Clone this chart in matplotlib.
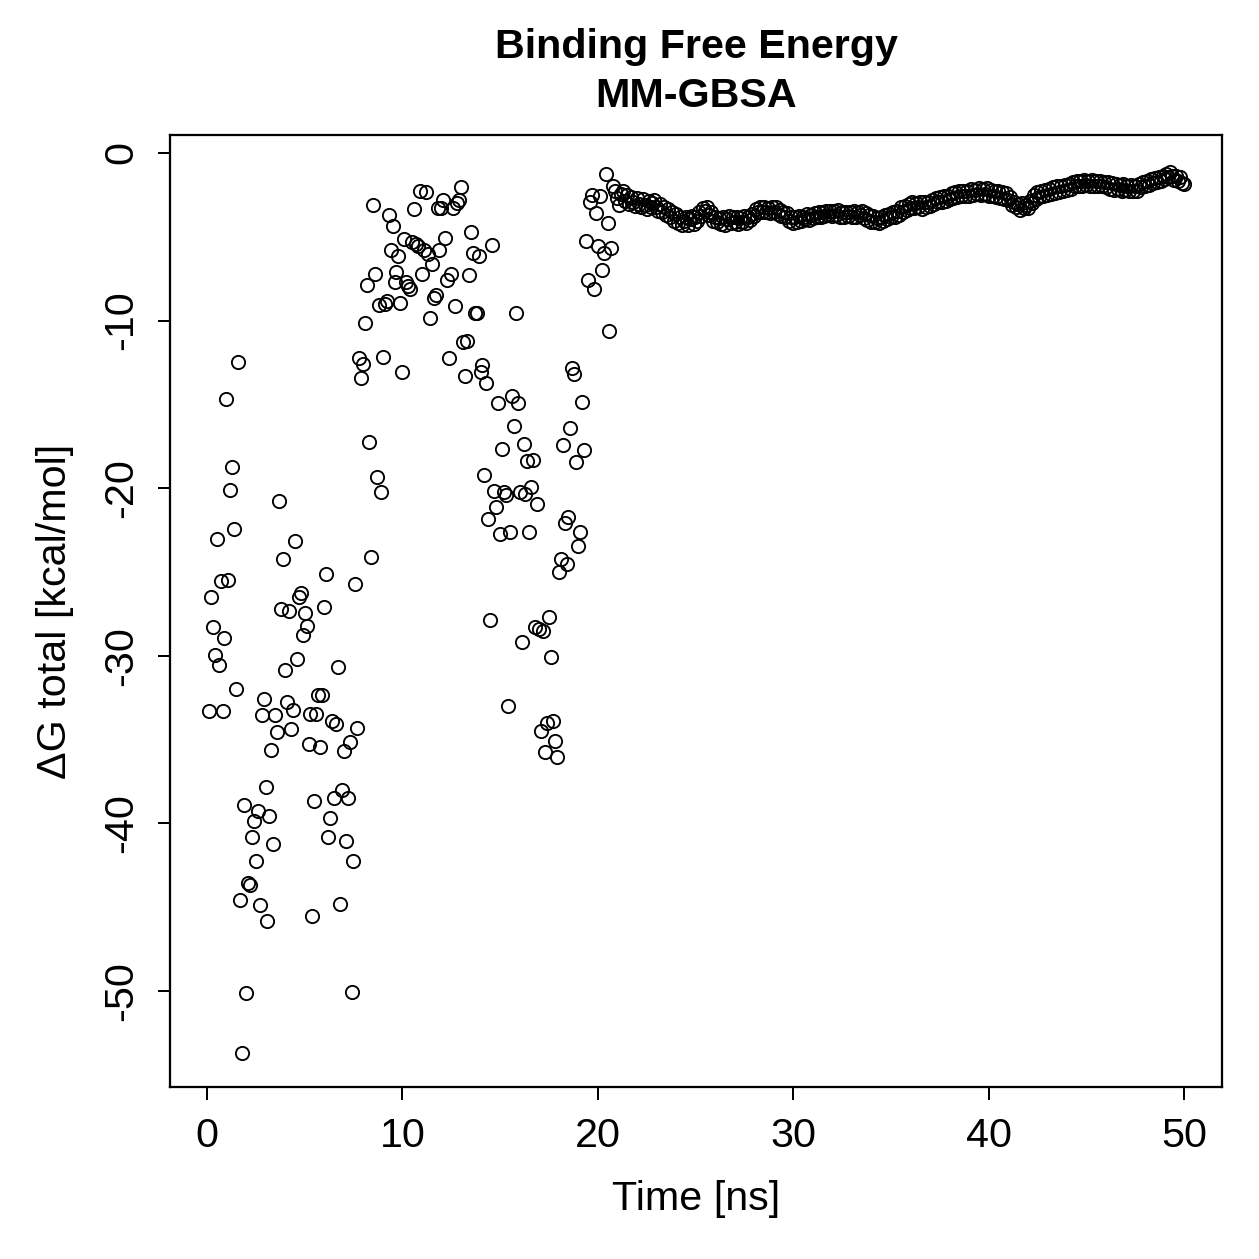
import numpy as np
import matplotlib
matplotlib.use('Agg')
import matplotlib.pyplot as plt

plt.rcParams['font.family'] = ['Liberation Sans', 'DejaVu Sans']

# frames are saved every 0.1 ns
frame_step_ns = 0.1

# scattered part, 0.1 .. 20.7 ns
dg_early = [
    -33.30, -26.51, -28.30, -29.97, -23.01, -30.55, -25.56, -33.30, -28.94, -14.70,
    -25.46, -20.13, -18.75, -22.42, -31.98, -12.45, -44.56, -53.72, -38.92, -50.12,
    -43.58, -43.68, -40.81, -39.84, -42.26, -39.25, -44.89, -33.55, -32.56, -37.85,
    -45.81, -39.58, -35.62, -41.23, -33.55, -34.53, -20.78, -27.21, -24.21, -30.83,
    -32.76, -27.35, -34.39, -33.24, -23.17, -30.19, -26.48, -26.24, -28.74, -27.47,
    -28.24, -35.27, -33.49, -45.51, -38.67, -33.46, -32.34, -35.46, -32.37, -27.12,
    -25.14, -40.83, -39.70, -33.87, -38.51, -34.07, -30.67, -44.83, -38.01, -35.68,
    -41.07, -38.51, -35.15, -50.06, -42.23, -25.70, -34.29, -12.21, -13.41, -12.57,
    -10.14, -7.88, -17.24, -24.11, -3.10, -7.20, -19.32, -9.07, -20.25, -12.17,
    -8.99, -8.83, -3.70, -5.81, -4.37, -7.72, -7.12, -6.16, -8.95, -13.09,
    -5.13, -7.68, -7.92, -8.12, -5.33, -3.34, -5.45, -5.53, -2.27, -7.20,
    -5.81, -2.31, -6.01, -9.83, -6.64, -8.63, -8.47, -3.26, -5.77, -3.30,
    -2.79, -5.05, -7.56, -12.25, -7.24, -3.26, -9.11, -2.98, -2.79, -2.03,
    -11.26, -13.32, -11.20, -7.28, -4.70, -5.98, -9.53, -9.53, -6.13, -13.09,
    -12.65, -19.21, -13.74, -21.86, -27.87, -5.49, -20.17, -21.14, -14.90, -22.73,
    -17.64, -20.25, -20.41, -32.98, -22.63, -14.50, -16.27, -9.53, -14.94, -20.23,
    -29.18, -17.38, -20.35, -18.38, -22.63, -19.95, -18.30, -28.27, -20.94, -28.39,
    -34.47, -28.50, -35.72, -34.03, -27.71, -30.09, -33.87, -35.07, -36.02, -25.02,
    -24.23, -17.44, -22.10, -24.51, -21.70, -16.43, -12.85, -13.21, -18.44, -23.43,
    -22.61, -14.86, -17.72, -5.25, -7.58, -2.91, -2.51, -8.12, -3.56, -5.53,
    -2.57, -7.00, -5.98, -1.27, -4.16, -10.60, -5.69,
]

# converged part, 20.8 .. 50.0 ns
dg_late = [
    -1.97, -2.25,
    -2.70, -3.10, -2.45, -2.30, -2.85, -2.50, -3.05, -2.65, -2.95, -3.15,
    -2.70, -3.05, -3.25, -2.75, -3.10, -3.35, -2.85, -3.20, -3.00, -2.80,
    -3.20, -3.45, -3.05, -3.55, -3.25, -3.70, -3.35, -3.85, -3.50, -4.05,
    -3.65, -4.20, -3.80, -4.30, -4.05, -3.85, -4.30, -3.95, -3.75, -4.25,
    -3.80, -4.05, -3.55, -3.75, -3.30, -3.45, -3.20, -3.70, -3.55, -4.05,
    -3.85, -4.15, -3.90, -4.25, -3.80, -4.30, -3.95, -3.75, -4.20, -3.85,
    -4.10, -3.80, -4.25, -3.90, -4.15, -3.75, -4.20, -3.85, -4.00, -3.65,
    -3.75, -3.35, -3.55, -3.20, -3.50, -3.25, -3.55, -3.30, -3.60, -3.20,
    -3.55, -3.25, -3.65, -3.40, -3.75, -3.50, -3.85, -3.60, -4.05, -3.80,
    -4.20, -3.85, -4.15, -3.75, -4.05, -3.80, -3.95, -3.65, -4.00, -3.70,
    -3.90, -3.60, -3.85, -3.55, -3.80, -3.50, -3.75, -3.45, -3.70, -3.45,
    -3.75, -3.45, -3.70, -3.40, -3.80, -3.50, -3.85, -3.55, -3.75, -3.50,
    -3.80, -3.45, -3.85, -3.50, -3.70, -3.45, -3.90, -3.60, -4.00, -3.70,
    -4.10, -3.75, -4.15, -3.90, -4.20, -3.85, -4.05, -3.70, -3.95, -3.65,
    -3.85, -3.55, -3.80, -3.45, -3.70, -3.25, -3.50, -3.15, -3.40, -3.05,
    -3.30, -2.95, -3.30, -3.00, -3.20, -2.90, -3.35, -2.95, -3.25, -2.90,
    -3.15, -2.80, -3.05, -2.70, -2.95, -2.65, -2.90, -2.60, -2.85, -2.55,
    -2.75, -2.40, -2.70, -2.35, -2.65, -2.30, -2.60, -2.25, -2.55, -2.30,
    -2.55, -2.15, -2.50, -2.20, -2.45, -2.10, -2.50, -2.15, -2.45, -2.10,
    -2.55, -2.20, -2.60, -2.25, -2.65, -2.30, -2.70, -2.35, -2.75, -2.40,
    -2.80, -2.65, -3.10, -2.90, -3.25, -3.05, -3.40, -3.00, -3.30, -3.10,
    -3.30, -2.85, -3.00, -2.50, -2.75, -2.35, -2.65, -2.25, -2.55, -2.20,
    -2.50, -2.15, -2.45, -2.05, -2.40, -2.00, -2.35, -1.95, -2.30, -1.90,
    -2.20, -1.85, -2.15, -1.75, -2.00, -1.65, -1.95, -1.70, -1.95, -1.60,
    -1.90, -1.65, -1.95, -1.60, -1.95, -1.70, -2.00, -1.65, -1.95, -1.75,
    -2.05, -1.75, -2.15, -1.80, -2.20, -1.85, -2.15, -1.90, -2.25, -1.85,
    -2.20, -1.95, -2.25, -1.90, -2.30, -1.95, -2.25, -1.85, -2.05, -1.75,
    -1.95, -1.65, -1.90, -1.55, -1.80, -1.50, -1.75, -1.45, -1.70, -1.40,
    -1.55, -1.25, -1.45, -1.15, -1.40, -1.60, -1.35, -1.70, -1.45, -1.80,
    -1.85,
]

x_ticks = [0, 10, 20, 30, 40, 50]
y_ticks = [0, -10, -20, -30, -40, -50]

dg_total = np.array(dg_early + dg_late)
time_ns = np.arange(1, len(dg_total) + 1) * frame_step_ns

fig = plt.figure(figsize=(1259 / 180, 1259 / 180), dpi=180)
ax = fig.add_axes([0.135, 0.1366, 0.8356, 0.7562])

ax.plot(time_ns, dg_total, linestyle='', marker='o', markersize=5.3,
        markerfacecolor='none', markeredgecolor='black', markeredgewidth=0.75)

ax.set_xlim(-1.89, 51.94)
ax.set_ylim(-55.73, 1.07)
ax.set_xticks(x_ticks)
ax.set_yticks(y_ticks)
ax.set_yticklabels([str(v) for v in y_ticks], rotation=90, va='center')

ax.tick_params(axis='both', length=5, width=0.8, labelsize=16.5, pad=7)
for s in ax.spines.values():
    s.set_linewidth(0.9)

ax.set_xlabel('Time [ns]', fontsize=16.5, labelpad=10)
ax.set_ylabel('ΔG total [kcal/mol]', fontsize=16.5, labelpad=11)
fig.text(0.553, 0.978, 'Binding Free Energy\nMM-GBSA', ha='center', va='top',
         fontsize=16.5, fontweight='bold', linespacing=1.38)

fig.savefig('out.png', dpi=180)
